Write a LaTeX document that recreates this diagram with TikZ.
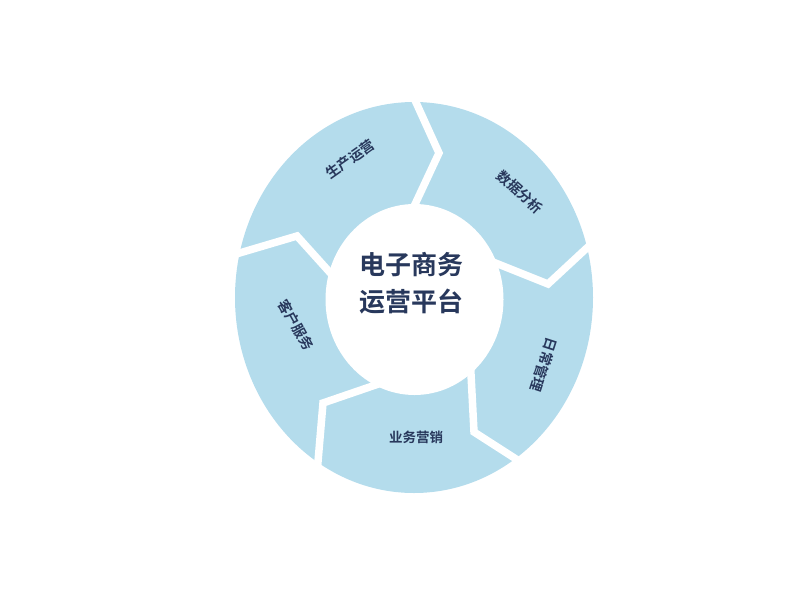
\documentclass[tikz,border=0pt]{standalone}
\usepackage{fontspec}
\newfontfamily\cjk{Noto Sans CJK SC}[BoldFont={Noto Sans CJK SC Bold}]
\definecolor{ringblue}{RGB}{180,220,236}
\definecolor{navy}{RGB}{40,56,92}
\begin{document}
\begin{tikzpicture}[x=1pt,y=-1pt,
  gapline/.style={draw=white,line width=7.5pt,line join=miter,miter limit=10},
  seglabel/.style={text=navy,font=\cjk\bfseries\fontsize{14}{16}\selectfont,inner sep=0pt},
  centerlabel/.style={text=navy,font=\cjk\bfseries\fontsize{26}{37}\selectfont,align=center,inner sep=0pt}]
\useasboundingbox (0,0) rectangle (800,600);
% ring
\fill[ringblue] (414,297.5) ellipse [x radius=179, y radius=195.5];
% gaps (chevrons)
\draw[gapline] (409,87) -- (439,153) -- (410,215);
\draw[gapline] (603,233) -- (548,284) -- (488,260);
\draw[gapline] (470,355) -- (474,432) -- (530,468);
\draw[gapline] (390,380) -- (323,403) -- (316,485);
\draw[gapline] (226,257) -- (297,236) -- (343,287);
% inner hole
\fill[white] (414.5,299.5) ellipse [x radius=89, y radius=95.5];
% labels
\node[centerlabel] (center) at (411,283) {电子商务\\运营平台};
\node[seglabel,rotate=35] (s1) at (350,159) {生产运营};
\node[seglabel,rotate=-42] (s2) at (520,192) {数据分析};
\node[seglabel,rotate=-108] (s3) at (544,365) {日常管理};
\node[seglabel,font=\cjk\bfseries\fontsize{13.5}{16}\selectfont] (s4) at (416,437) {业务营销};
\node[seglabel,rotate=-61] (s5) at (296,325) {客户服务};
\end{tikzpicture}
\end{document}
